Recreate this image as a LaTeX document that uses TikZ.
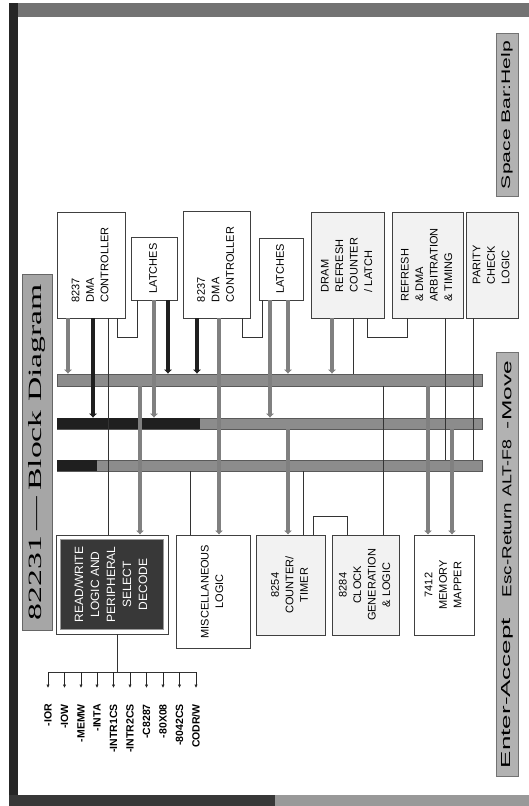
\documentclass[tikz,border=0pt]{standalone}
\usepackage{fontspec}
\setmainfont{Liberation Sans}
\newfontfamily\titlefont{Liberation Serif}
\usetikzlibrary{arrows.meta}
\newcommand{\vtext}[2][l]{\rotatebox{90}{\begin{tabular}{@{}#1@{}}#2\end{tabular}}}
\begin{document}
\begin{tikzpicture}[x=1pt,y=-1pt,
  box/.style={draw=black!75, line width=0.9pt, fill=white, inner sep=0pt,
    font=\fontsize{11}{14.5}\selectfont},
  lbox/.style={box, fill=black!5},
  bus/.style={draw=black!65, fill=black!45, line width=0.6pt, inner sep=0pt,
    minimum width=425pt},
  thk/.style={line width=3.6pt, draw=black!50, -{Latex[length=4pt,width=8.5pt]}},
  thkd/.style={thk, draw=black!88},
  thn/.style={line width=1pt, draw=black!80},
  sigarrow/.style={line width=0.9pt, draw=black!85, -{Latex[length=3.5pt,width=3.5pt]}},
  siglbl/.style={rotate=90, anchor=east, inner sep=0pt,
    font=\fontsize{10.5}{12}\selectfont\bfseries},
  stat/.style={draw=black!55, fill=black!30, line width=0.8pt, inner sep=0pt,
    minimum width=22pt},
  stattxt/.style={inner sep=0pt}
]
\useasboundingbox (0,0) rectangle (529,806);
% frame
\fill[black!55] (10,3) rectangle (529,17);
\fill[black!85] (9,3) rectangle (18,797);
\fill[black!78] (9,795) rectangle (275,806);
\fill[black!40] (275,795) rectangle (529,806);

% title
\node[draw=black!60, fill=black!35, line width=0.8pt, minimum width=30pt,
  minimum height=356pt, inner sep=0pt] (title) at (37,452)
  {\rotatebox{90}{\resizebox{336pt}{13pt}{\titlefont 82231\,—\,Block Diagram}}};

% status bar
\node[stat, minimum height=163pt] (help) at (507,115)
  {\rotatebox{90}{\resizebox{148pt}{9pt}{Space Bar:Help}}};
\node[stat, minimum height=424pt] (keys) at (507,564) {};
\node[stattxt] (kenter) at (507,693) {\rotatebox{90}{\resizebox{150pt}{9pt}{Enter-Accept}}};
\node[stattxt] (kesc) at (507,550) {\rotatebox{90}{\resizebox{94pt}{9pt}{Esc-Return}}};
\node[stattxt] (kalt) at (507,468) {\rotatebox{90}{\resizebox{57pt}{9pt}{ALT-F8}}};
\node[stattxt] (kmove) at (507,395) {\rotatebox{90}{\resizebox{68pt}{9pt}{-Move}}};

% buses
\node[bus, minimum height=12pt] (bus1) at (269.5,380) {};
\node[bus, minimum height=11pt] (bus2) at (269.5,423.5) {};
\node[bus, minimum height=11pt] (bus3) at (269.5,465.5) {};
\fill[black!88] (bus2.north west) rectangle (200,0 |- bus2.south);
\fill[black!88] (bus3.north west) rectangle (97,0 |- bus3.south);

% top row
\node[box, minimum width=68pt, minimum height=106pt] (dma1) at (91,265)
  {\vtext{8237\\DMA\\CONTROLLER}};
\node[box, minimum width=46pt, minimum height=63pt] (lat1) at (154,268.5)
  {\vtext{LATCHES}};
\node[box, minimum width=67pt, minimum height=107pt] (dma2) at (216.5,264.5)
  {\vtext{8237\\DMA\\CONTROLLER}};
\node[box, minimum width=44pt, minimum height=62pt] (lat2) at (281,269)
  {\vtext{LATCHES}};
\node[lbox, minimum width=73pt, minimum height=106pt] (dram) at (347.5,265)
  {\vtext{DRAM\\REFRESH\\COUNTER\\/ LATCH}};
\node[lbox, minimum width=71pt, minimum height=106pt] (refr) at (427.5,265)
  {\vtext{REFRESH\\\& DMA\\ARBITRATION\\\& TIMING}};
\node[lbox, minimum width=52pt, minimum height=106pt] (par) at (492,265)
  {\vtext{PARITY\\CHECK\\LOGIC}};

% bottom row
\node[box, minimum width=112pt, minimum height=99pt] (rwout) at (112,584.5) {};
\node[draw=black!40, fill=black!78, line width=0.6pt, inner sep=0pt,
  minimum width=103pt, minimum height=90pt, text=white,
  font=\fontsize{12}{16}\selectfont] (rw) at (112,584.5)
  {\vtext[c]{READ/WRITE\\LOGIC AND\\PERIPHERAL\\SELECT\\DECODE}};
\node[box, minimum width=74pt, minimum height=113pt] (misc) at (213,591.5)
  {\vtext[c]{MISCELLANEOUS\\LOGIC}};
\node[lbox, minimum width=69pt, minimum height=100pt] (t8254) at (290.5,585)
  {\vtext[c]{8254\\COUNTER/\\TIMER}};
\node[lbox, minimum width=67pt, minimum height=100pt] (t8284) at (365.5,585)
  {\vtext[c]{8284\\CLOCK\\GENERATION\\\& LOGIC}};
\node[box, minimum width=60pt, minimum height=100pt] (mapper) at (444,585)
  {\vtext[c]{7412\\MEMORY\\MAPPER}};

% connectors from DMA1 / latches 1
\draw[thk] (68,0 |- dma1.south) -- (68,0 |- bus1.north);
\draw[thkd] (93,0 |- dma1.south) -- (93,0 |- bus2.north);
\draw[thn] (108,0 |- dma1.south) -- (108,0 |- rwout.north);
\draw[thn] (117,0 |- dma1.south) -- (117,337) -| (137,0 |- lat1.south);
\draw[thk] (154,0 |- lat1.south) -- (154,0 |- bus2.north);
\draw[thkd] (168,0 |- lat1.south) -- (168,0 |- bus1.north);
\draw[thk] (140,0 |- bus1.south) -- (140,0 |- rwout.north);
% DMA2 / latches 2
\draw[thkd] (197,0 |- dma2.south) -- (197,0 |- bus1.north);
\draw[thk] (219,0 |- dma2.south) -- (219,0 |- misc.north);
\draw[thn] (242,0 |- dma2.south) -- (242,337) -| (262,0 |- lat2.south);
\draw[thk] (270,0 |- lat2.south) -- (270,0 |- bus2.north);
\draw[thk] (288,0 |- lat2.south) -- (288,0 |- bus1.north);
% to lower blocks
\draw[thk] (288,0 |- bus2.south) -- (288,0 |- t8254.north);
\draw[thn] (190,0 |- bus3.south) -- (190,0 |- misc.north);
\draw[thn] (303,0 |- bus3.south) -- (303,0 |- t8254.north);
\draw[thn] (313,0 |- t8254.north) -- (313,516) -| (347,0 |- t8284.north);
% DRAM / refresh / parity
\draw[thk] (332,0 |- dram.south) -- (332,0 |- bus1.north);
\draw[thn] (353,0 |- dram.south) -- (353,0 |- bus1.north);
\draw[thn] (367,0 |- dram.south) -- (367,337) -| (407,0 |- refr.south);
\draw[thn] (383,0 |- bus1.south) -- (383,0 |- t8284.north);
\draw[thn] (445,0 |- refr.south) -- (445,0 |- bus3.north);
\draw[thn] (473,0 |- par.south) -- (473,0 |- bus3.north);
\draw[thk] (428,0 |- bus1.south) -- (428,0 |- mapper.north);
\draw[thk] (452,0 |- bus2.south) -- (452,0 |- mapper.north);

% signal fan-out
\coordinate (fan) at (117,672);
\coordinate (fanL) at (48,672);
\coordinate (fanR) at (196,672);
\draw[thn] (rwout.south -| fan) -- (fan);
\draw[thn] (fanL) -- (fanR);
\foreach \x/\t [count=\i] in {48/{-IOR},64.5/{-IOW},81/{-MEMW},97/{-INTA},
  113.5/{-INTR1CS},130/{-INTR2CS},146.5/{-C8287},163/{-80X08},179.5/{-8042CS},196/{CODR/W}} {
  \coordinate (s\i) at (\x,688);
  \draw[sigarrow] (s\i |- fan) -- (s\i);
  \node[siglbl] (l\i) at (\x,704) {\t};
}
\end{tikzpicture}
\end{document}
